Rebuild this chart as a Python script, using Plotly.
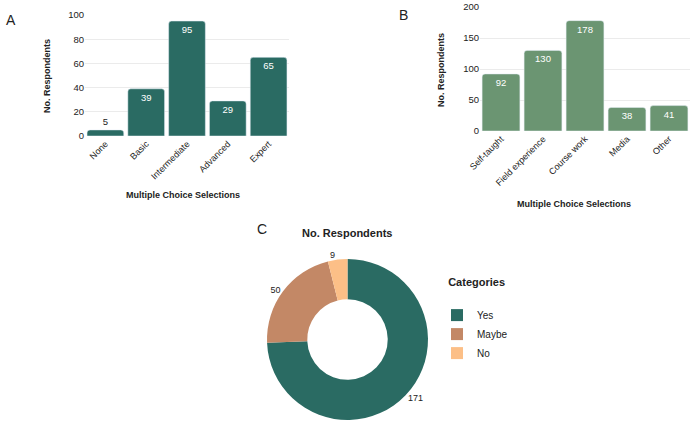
import plotly.graph_objects as go

W, H = 695, 427

# ---- data ----
skill_levels = ["None", "Basic", "Intermediate", "Advanced", "Expert"]
skill_counts = [5, 39, 95, 29, 65]

sources = ["Self-taught", "Field experience", "Course work", "Media", "Other"]
source_counts = [92, 130, 178, 38, 41]

answer_labels = ["Yes", "Maybe", "No"]
answer_counts = [171, 50, 9]

# ---- style ----
FONT = "Liberation Sans, Arial, Helvetica, sans-serif"
TEXT = "#222222"
TEAL = "#2a6b63"
GREEN = "#6b9572"
PIE_COLORS = ["#2a6b63", "#c38866", "#fcbf87"]
GRID = "#ebebeb"


def px_x(x):
    return x / W


def px_y(y):
    return 1 - y / H


fig = go.Figure()

fig.add_trace(go.Bar(
    x=skill_levels, y=skill_counts, text=skill_counts,
    textposition="auto", insidetextanchor="end",
    insidetextfont=dict(color="white", size=9.5, family=FONT),
    outsidetextfont=dict(color=TEXT, size=9.5, family=FONT),
    marker=dict(color=TEAL, cornerradius=3),
    xaxis="x", yaxis="y", cliponaxis=False, showlegend=False,
    hoverinfo="x+y",
))

fig.add_trace(go.Bar(
    x=sources, y=source_counts, text=source_counts,
    textposition="auto", insidetextanchor="end",
    insidetextfont=dict(color="white", size=9.5, family=FONT),
    outsidetextfont=dict(color=TEXT, size=9.5, family=FONT),
    marker=dict(color=GREEN, cornerradius=3),
    xaxis="x2", yaxis="y2", cliponaxis=False, showlegend=False,
    hoverinfo="x+y",
))

fig.add_trace(go.Pie(
    labels=answer_labels, values=answer_counts, hole=0.5,
    sort=False, direction="clockwise", rotation=0,
    marker=dict(colors=PIE_COLORS),
    textinfo="value", textposition="outside",
    textfont=dict(color=TEXT, size=9, family=FONT),
    domain=dict(x=[px_x(267), px_x(428)], y=[px_y(420), px_y(259)]),
    showlegend=True,
))

axis_common = dict(
    showline=False, ticks="", zeroline=False, automargin=False,
    tickfont=dict(size=9.5, color=TEXT, family=FONT),
)
xtick_font = dict(size=9, color=TEXT, family=FONT)

fig.update_layout(
    width=W, height=H,
    margin=dict(l=0, r=0, t=0, b=0, autoexpand=False),
    paper_bgcolor="white", plot_bgcolor="white",
    font=dict(family=FONT, color=TEXT),
    bargap=0.1,
    xaxis=dict(domain=[px_x(85), px_x(289)], anchor="y",
               tickangle=-45, showgrid=False,
               **{**axis_common, "tickfont": xtick_font}),
    yaxis=dict(domain=[px_y(136), px_y(15)], anchor="x",
               range=[0, 100], dtick=20, showgrid=True, gridcolor=GRID,
               **axis_common),
    xaxis2=dict(domain=[px_x(480), px_x(690)], anchor="y2",
                tickangle=-45, showgrid=False,
                **{**axis_common, "tickfont": xtick_font}),
    yaxis2=dict(domain=[px_y(131), px_y(7)], anchor="x2",
                range=[0, 200], dtick=50, showgrid=True, gridcolor=GRID,
                **axis_common),
    legend=dict(
        title=dict(text="&#160;&#160;&#160;<b>Categories</b><br> ",
                   font=dict(size=11, color=TEXT, family=FONT)),
        font=dict(size=10, color=TEXT, family=FONT),
        x=px_x(437), y=px_y(272), xanchor="left", yanchor="top",
        bgcolor="rgba(0,0,0,0)",
    ),
)

annotations = [
    # panel letters
    dict(text="A", x=px_x(11), y=px_y(20)),
    dict(text="B", x=px_x(403), y=px_y(15)),
    dict(text="C", x=px_x(262), y=px_y(229)),
]
for a in annotations:
    a.update(xref="paper", yref="paper", showarrow=False,
             font=dict(size=14, color=TEXT, family=FONT),
             xanchor="center", yanchor="middle")

titles = [
    dict(text="<b>No. Respondents</b>", x=px_x(47), y=px_y(76), textangle=-90),
    dict(text="<b>Multiple Choice Selections</b>", x=px_x(183), y=px_y(195)),
    dict(text="<b>No. Respondents</b>", x=px_x(441), y=px_y(70), textangle=-90),
    dict(text="<b>Multiple Choice Selections</b>", x=px_x(574), y=px_y(204)),
]
for t in titles:
    t.update(xref="paper", yref="paper", showarrow=False,
             font=dict(size=9, color=TEXT, family=FONT),
             xanchor="center", yanchor="middle")

pie_title = dict(text="<b>No. Respondents</b>", x=px_x(347), y=px_y(233),
                 xref="paper", yref="paper", showarrow=False,
                 font=dict(size=11, color=TEXT, family=FONT),
                 xanchor="center", yanchor="middle")

fig.update_layout(annotations=annotations + titles + [pie_title])

fig.write_html("out.html")
